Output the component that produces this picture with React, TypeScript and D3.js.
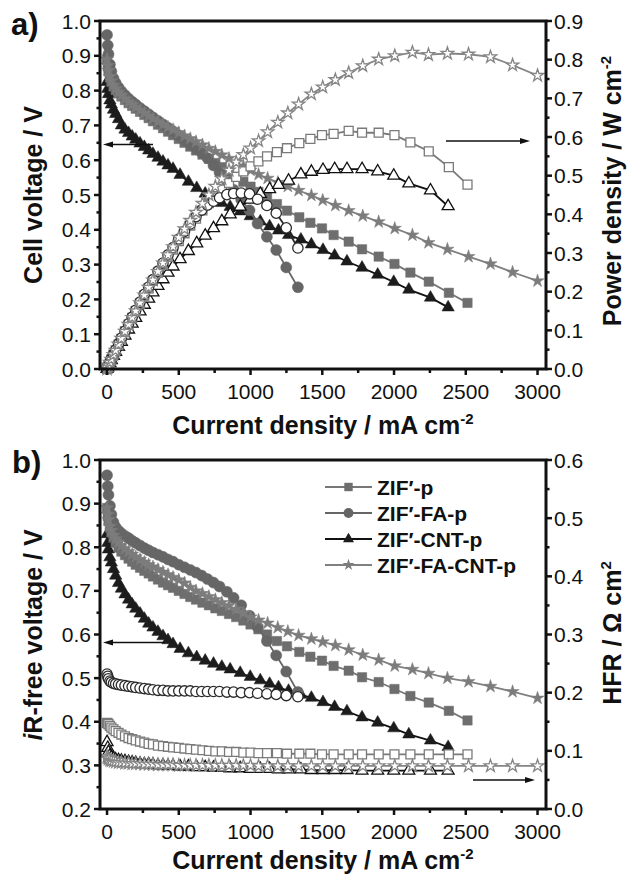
import React from 'react'
import * as d3 from 'd3'

// ---- data (current density in mA cm-2) ----

// ZIF'-p
const currentZifP = [0, 5, 10, 20, 30, 45, 60, 80, 100, 125, 150, 175, 200, 230, 260, 290, 320, 355, 390, 425, 460, 500, 540, 580, 620, 665, 710, 755, 800, 850, 900, 950, 1000, 1055, 1115, 1184, 1254, 1340, 1417, 1498, 1579, 1684, 1777, 1893, 2003, 2114, 2242, 2382, 2512]
const voltZifP = [0.890, 0.870, 0.855, 0.838, 0.826, 0.812, 0.802, 0.792, 0.783, 0.773, 0.764, 0.756, 0.748, 0.739, 0.730, 0.721, 0.712, 0.702, 0.692, 0.682, 0.672, 0.661, 0.650, 0.639, 0.628, 0.616, 0.604, 0.592, 0.580, 0.566, 0.552, 0.538, 0.524, 0.509, 0.493, 0.474, 0.455, 0.436, 0.420, 0.404, 0.385, 0.366, 0.344, 0.323, 0.302, 0.277, 0.251, 0.219, 0.190]
const powerZifP = [0, 0.004, 0.009, 0.017, 0.025, 0.037, 0.048, 0.063, 0.078, 0.097, 0.115, 0.132, 0.150, 0.170, 0.190, 0.209, 0.228, 0.249, 0.270, 0.290, 0.309, 0.331, 0.351, 0.371, 0.389, 0.410, 0.429, 0.447, 0.464, 0.481, 0.497, 0.511, 0.524, 0.537, 0.550, 0.561, 0.571, 0.584, 0.595, 0.605, 0.608, 0.616, 0.611, 0.611, 0.605, 0.586, 0.563, 0.522, 0.477]
const irFreeZifP = [0.890, 0.872, 0.860, 0.845, 0.834, 0.822, 0.810, 0.799, 0.790, 0.782, 0.774, 0.767, 0.760, 0.753, 0.746, 0.740, 0.733, 0.726, 0.719, 0.713, 0.707, 0.700, 0.693, 0.686, 0.680, 0.673, 0.667, 0.660, 0.654, 0.647, 0.640, 0.632, 0.623, 0.612, 0.600, 0.585, 0.573, 0.560, 0.549, 0.540, 0.528, 0.517, 0.502, 0.491, 0.475, 0.459, 0.444, 0.425, 0.403]
const hfrZifP = [0.148, 0.147, 0.146, 0.143, 0.140, 0.137, 0.134, 0.131, 0.128, 0.125, 0.122, 0.120, 0.118, 0.116, 0.114, 0.112, 0.111, 0.109, 0.108, 0.107, 0.106, 0.105, 0.104, 0.103, 0.102, 0.101, 0.100, 0.099, 0.099, 0.098, 0.098, 0.097, 0.097, 0.096, 0.096, 0.096, 0.095, 0.095, 0.095, 0.094, 0.094, 0.094, 0.094, 0.094, 0.094, 0.094, 0.094, 0.094, 0.094]

// ZIF'-FA-p
const currentZifFaP = [0, 5, 10, 20, 30, 45, 60, 80, 100, 125, 150, 175, 200, 230, 260, 290, 320, 355, 390, 425, 460, 500, 540, 580, 620, 660, 700, 742, 784, 835, 882, 935, 993, 1049, 1114, 1179, 1249, 1330]
const voltZifFaP = [0.960, 0.930, 0.905, 0.875, 0.855, 0.835, 0.822, 0.809, 0.798, 0.787, 0.777, 0.768, 0.760, 0.750, 0.741, 0.732, 0.723, 0.713, 0.703, 0.693, 0.683, 0.671, 0.659, 0.647, 0.635, 0.622, 0.606, 0.585, 0.565, 0.540, 0.515, 0.487, 0.456, 0.418, 0.380, 0.342, 0.292, 0.235]
const powerZifFaP = [0, 0.005, 0.009, 0.018, 0.026, 0.038, 0.049, 0.065, 0.080, 0.098, 0.117, 0.134, 0.152, 0.173, 0.193, 0.212, 0.231, 0.253, 0.274, 0.295, 0.314, 0.336, 0.356, 0.375, 0.394, 0.411, 0.424, 0.434, 0.443, 0.451, 0.454, 0.455, 0.453, 0.439, 0.423, 0.403, 0.365, 0.313]
const irFreeZifFaP = [0.965, 0.940, 0.920, 0.895, 0.875, 0.857, 0.846, 0.838, 0.832, 0.826, 0.821, 0.815, 0.810, 0.804, 0.798, 0.793, 0.788, 0.783, 0.778, 0.772, 0.767, 0.760, 0.754, 0.748, 0.742, 0.735, 0.727, 0.719, 0.710, 0.698, 0.684, 0.667, 0.643, 0.617, 0.585, 0.552, 0.515, 0.468]
const hfrZifFaP = [0.232, 0.228, 0.224, 0.220, 0.218, 0.216, 0.215, 0.214, 0.213, 0.212, 0.211, 0.210, 0.209, 0.208, 0.207, 0.206, 0.205, 0.204, 0.204, 0.203, 0.203, 0.203, 0.203, 0.203, 0.202, 0.202, 0.202, 0.202, 0.202, 0.201, 0.201, 0.200, 0.200, 0.199, 0.198, 0.197, 0.195, 0.193]

// ZIF'-CNT-p
const currentZifCntP = [0, 5, 10, 20, 30, 45, 60, 80, 100, 125, 150, 175, 200, 230, 260, 290, 320, 355, 390, 425, 460, 509, 567, 625, 684, 742, 800, 858, 928, 998, 1068, 1133, 1195, 1265, 1351, 1424, 1505, 1586, 1672, 1777, 1886, 1998, 2103, 2254, 2377]
const voltZifCntP = [0.825, 0.805, 0.790, 0.772, 0.760, 0.745, 0.733, 0.718, 0.700, 0.688, 0.678, 0.668, 0.659, 0.648, 0.638, 0.628, 0.618, 0.607, 0.596, 0.585, 0.575, 0.558, 0.538, 0.520, 0.504, 0.490, 0.477, 0.466, 0.453, 0.439, 0.424, 0.410, 0.398, 0.385, 0.372, 0.358, 0.342, 0.326, 0.309, 0.291, 0.271, 0.250, 0.228, 0.205, 0.177]
const powerZifCntP = [0, 0.004, 0.008, 0.015, 0.023, 0.034, 0.044, 0.057, 0.070, 0.086, 0.102, 0.117, 0.132, 0.149, 0.166, 0.182, 0.198, 0.215, 0.232, 0.249, 0.265, 0.284, 0.305, 0.325, 0.345, 0.364, 0.382, 0.400, 0.420, 0.438, 0.453, 0.465, 0.476, 0.487, 0.503, 0.510, 0.515, 0.517, 0.517, 0.517, 0.511, 0.500, 0.480, 0.462, 0.421]
const irFreeZifCntP = [0.830, 0.810, 0.795, 0.777, 0.765, 0.750, 0.735, 0.718, 0.705, 0.692, 0.680, 0.669, 0.659, 0.648, 0.636, 0.625, 0.616, 0.606, 0.596, 0.587, 0.578, 0.567, 0.557, 0.548, 0.540, 0.533, 0.526, 0.520, 0.512, 0.503, 0.495, 0.487, 0.479, 0.471, 0.462, 0.455, 0.445, 0.434, 0.424, 0.410, 0.398, 0.385, 0.371, 0.357, 0.342]
const hfrZifCntP = [0.115, 0.105, 0.098, 0.092, 0.089, 0.087, 0.085, 0.084, 0.083, 0.082, 0.081, 0.080, 0.079, 0.078, 0.077, 0.077, 0.076, 0.075, 0.075, 0.074, 0.074, 0.073, 0.073, 0.072, 0.072, 0.071, 0.071, 0.070, 0.070, 0.069, 0.069, 0.069, 0.068, 0.068, 0.068, 0.067, 0.067, 0.067, 0.067, 0.066, 0.066, 0.066, 0.066, 0.066, 0.066]

// ZIF'-FA-CNT-p
const currentZifFaCntP = [0, 5, 10, 20, 30, 45, 60, 80, 100, 125, 150, 175, 200, 230, 260, 290, 320, 355, 390, 425, 460, 500, 540, 580, 620, 665, 710, 755, 800, 850, 900, 950, 1000, 1056, 1119, 1190, 1260, 1335, 1424, 1503, 1591, 1684, 1782, 1893, 2005, 2128, 2240, 2372, 2519, 2672, 2826, 3000]
const voltZifFaCntP = [0.890, 0.872, 0.858, 0.840, 0.828, 0.815, 0.805, 0.795, 0.786, 0.776, 0.767, 0.759, 0.752, 0.743, 0.735, 0.727, 0.719, 0.711, 0.703, 0.695, 0.688, 0.679, 0.670, 0.662, 0.653, 0.644, 0.634, 0.625, 0.615, 0.605, 0.594, 0.583, 0.571, 0.559, 0.548, 0.536, 0.525, 0.513, 0.499, 0.485, 0.470, 0.455, 0.440, 0.423, 0.404, 0.385, 0.363, 0.344, 0.323, 0.302, 0.278, 0.253]
const powerZifFaCntP = [0, 0.004, 0.009, 0.017, 0.025, 0.037, 0.048, 0.064, 0.079, 0.097, 0.115, 0.133, 0.150, 0.171, 0.191, 0.211, 0.230, 0.252, 0.274, 0.295, 0.316, 0.340, 0.362, 0.384, 0.405, 0.428, 0.450, 0.472, 0.492, 0.514, 0.535, 0.554, 0.571, 0.590, 0.613, 0.638, 0.662, 0.685, 0.711, 0.729, 0.748, 0.766, 0.784, 0.801, 0.810, 0.819, 0.813, 0.816, 0.814, 0.807, 0.786, 0.759]
const irFreeZifFaCntP = [0.890, 0.875, 0.863, 0.848, 0.838, 0.827, 0.819, 0.811, 0.804, 0.797, 0.790, 0.784, 0.778, 0.772, 0.766, 0.760, 0.755, 0.749, 0.743, 0.737, 0.731, 0.725, 0.718, 0.708, 0.700, 0.694, 0.687, 0.680, 0.673, 0.666, 0.658, 0.649, 0.640, 0.633, 0.626, 0.616, 0.607, 0.598, 0.590, 0.583, 0.575, 0.565, 0.553, 0.542, 0.528, 0.520, 0.511, 0.500, 0.492, 0.481, 0.469, 0.454]
const hfrZifFaCntP = [0.090, 0.088, 0.086, 0.084, 0.083, 0.082, 0.081, 0.080, 0.080, 0.079, 0.079, 0.078, 0.078, 0.078, 0.077, 0.077, 0.077, 0.076, 0.076, 0.076, 0.076, 0.075, 0.075, 0.075, 0.075, 0.075, 0.075, 0.075, 0.075, 0.075, 0.075, 0.075, 0.075, 0.074, 0.074, 0.074, 0.074, 0.074, 0.074, 0.074, 0.074, 0.074, 0.074, 0.074, 0.074, 0.074, 0.074, 0.074, 0.074, 0.074, 0.074, 0.074]

// ticks
const xTicks = [0, 500, 1000, 1500, 2000, 2500, 3000]
const xMinor = [250, 750, 1250, 1750, 2250, 2750]
const cellTicks = [0, 0.1, 0.2, 0.3, 0.4, 0.5, 0.6, 0.7, 0.8, 0.9, 1.0]
const powerTicks = [0, 0.1, 0.2, 0.3, 0.4, 0.5, 0.6, 0.7, 0.8, 0.9]
const irTicks = [0.2, 0.3, 0.4, 0.5, 0.6, 0.7, 0.8, 0.9, 1.0]
const hfrTicks = [0, 0.1, 0.2, 0.3, 0.4, 0.5, 0.6]

const FONT = "'Liberation Sans', Arial, Helvetica, sans-serif"
const X0 = 100
const X1 = 546

const series = [
  { name: 'ZIF\u2032-CNT-p', current: currentZifCntP, volt: voltZifCntP, power: powerZifCntP, irFree: irFreeZifCntP, hfr: hfrZifCntP,
    symbol: d3.symbolTriangle, size: 66, openSize: 62, fill: '#1c1c1c', open: '#111', line: '#111' },
  { name: 'ZIF\u2032-p', current: currentZifP, volt: voltZifP, power: powerZifP, irFree: irFreeZifP, hfr: hfrZifP,
    symbol: d3.symbolSquare, size: 88, openSize: 80, fill: '#6e6e6e', open: '#7a7a7a', line: '#777' },
  { name: 'ZIF\u2032-FA-p', current: currentZifFaP, volt: voltZifFaP, power: powerZifFaP, irFree: irFreeZifFaP, hfr: hfrZifFaP,
    symbol: d3.symbolCircle, size: 96, openSize: 84, fill: '#666', open: '#2a2a2a', line: '#666' },
  { name: 'ZIF\u2032-FA-CNT-p', current: currentZifFaCntP, volt: voltZifFaCntP, power: powerZifFaCntP, irFree: irFreeZifFaCntP, hfr: hfrZifFaCntP,
    symbol: d3.symbolStar, size: 54, openSize: 48, fill: '#7c7c7c', open: '#858585', line: '#808080' },
]
const legendOrder = [1, 2, 0, 3]

const xScale = d3.scaleLinear().domain([-49, 3059]).range([X0, X1])

function Markers({ s, values, y, open }) {
  const d = d3.symbol().type(s.symbol).size(open ? s.openSize : s.size)()
  const line = d3.line().x((_, i) => xScale(s.current[i])).y(v => y(v))
  return (
    <g>
      <path d={line(values)} fill="none" stroke={open ? s.open : s.line} strokeWidth={1.8} />
      {values.map((v, i) => (
        <path key={i} d={d} transform={`translate(${xScale(s.current[i])},${y(v)})`}
          fill={open ? '#fff' : s.fill} stroke={open ? s.open : s.fill} strokeWidth={open ? 1.3 : 0.5} />
      ))}
    </g>
  )
}

function Arrow({ x1, x2, y }) {
  const dir = x2 > x1 ? 1 : -1
  return (
    <g>
      <line x1={x1} x2={x2 - dir * 7} y1={y} y2={y} stroke="#111" strokeWidth={1.3} />
      <path d={`M${x2},${y} L${x2 - dir * 10},${y - 3} L${x2 - dir * 10},${y + 3} Z`} fill="#111" />
    </g>
  )
}

function Frame({ yTop, yBot, yL, yR, leftTicks, rightTicks, xLabelY }) {
  const fmt = d3.format('.1f')
  const leftMinor = leftTicks.slice(0, -1).map(t => t + 0.05)
  const rightMinor = rightTicks.slice(0, -1).map(t => t + 0.05)
  return (
    <g stroke="#111" fontFamily={FONT} fontSize={21}>
      <rect x={X0} y={yTop} width={X1 - X0} height={yBot - yTop} fill="none" strokeWidth={3} />
      {leftTicks.map(t => (
        <g key={'l' + t}>
          <line x1={X0 - 6} x2={X0} y1={yL(t)} y2={yL(t)} strokeWidth={2.5} />
          <text x={X0 - 9} y={yL(t)} dy="0.36em" textAnchor="end" stroke="none" fill="#111">{fmt(t)}</text>
        </g>
      ))}
      {leftMinor.map(t => <line key={'lm' + t} x1={X0 - 3.5} x2={X0} y1={yL(t)} y2={yL(t)} strokeWidth={2.5} />)}
      {rightTicks.map(t => (
        <g key={'r' + t}>
          <line x1={X1} x2={X1 + 6} y1={yR(t)} y2={yR(t)} strokeWidth={2.5} />
          <text x={X1 + 8} y={yR(t)} dy="0.36em" stroke="none" fill="#111">{fmt(t)}</text>
        </g>
      ))}
      {rightMinor.map(t => <line key={'rm' + t} x1={X1} x2={X1 + 3.5} y1={yR(t)} y2={yR(t)} strokeWidth={2.5} />)}
      {xTicks.map(t => (
        <g key={'x' + t}>
          <line x1={xScale(t)} x2={xScale(t)} y1={yBot} y2={yBot + 6} strokeWidth={2.5} />
          <text x={xScale(t)} y={xLabelY} textAnchor="middle" stroke="none" fill="#111">{t}</text>
        </g>
      ))}
      {xMinor.map(t => <line key={'xm' + t} x1={xScale(t)} x2={xScale(t)} y1={yBot} y2={yBot + 4} strokeWidth={2.5} />)}
    </g>
  )
}

export default function App() {
  const yCell = d3.scaleLinear().domain([0, 1]).range([369, 21])
  const yPower = d3.scaleLinear().domain([0, 0.9]).range([369, 21])
  const yIr = d3.scaleLinear().domain([0.2, 1.0]).range([809, 460])
  const yHfr = d3.scaleLinear().domain([0, 0.6]).range([809, 460])

  const title = { fontFamily: FONT, fontSize: 25, fontWeight: 'bold', fill: '#111' }

  return (
    <div style={{ position: 'absolute', left: 0, top: 0 }}>
      <svg width={628} height={876} style={{ display: 'block', background: '#fff' }}>
        {/* panel a */}
        <g>
          {series.map((s, k) => <Markers key={'v' + k} s={s} values={s.volt} y={yCell} open={false} />)}
          {series.map((s, k) => <Markers key={'p' + k} s={s} values={s.power} y={yPower} open={true} />)}
          <Arrow x1={153} x2={103} y={144.5} />
          <Arrow x1={446} x2={530} y={141} />
          <Frame yTop={21} yBot={369} yL={yCell} yR={yPower} leftTicks={cellTicks} rightTicks={powerTicks} xLabelY={399} />
          <text x={11} y={35} {...title} fontSize={31}>a)</text>
          <text transform="translate(42,195) rotate(-90)" textAnchor="middle" {...title}>Cell voltage / V</text>
          <text transform="translate(621,191) rotate(-90)" textAnchor="middle" {...title}>
            Power density / W cm<tspan dy={-10} fontSize={15}>-2</tspan>
          </text>
          <text x={323} y={434} textAnchor="middle" {...title}>
            Current density / mA cm<tspan dy={-10} fontSize={15}>-2</tspan>
          </text>
        </g>

        {/* panel b */}
        <g>
          {series.map((s, k) => <Markers key={'i' + k} s={s} values={s.irFree} y={yIr} open={false} />)}
          {series.map((s, k) => <Markers key={'h' + k} s={s} values={s.hfr} y={yHfr} open={true} />)}
          <Arrow x1={165} x2={103} y={642.5} />
          <Arrow x1={473} x2={535} y={780} />
          <Frame yTop={460} yBot={809} yL={yIr} yR={yHfr} leftTicks={irTicks} rightTicks={hfrTicks} xLabelY={839} />
          <text x={12} y={473} {...title} fontSize={31}>b)</text>
          <text transform="translate(42,635) rotate(-90)" textAnchor="middle" {...title}>
            <tspan fontStyle="italic">i</tspan>R-free voltage / V
          </text>
          <text transform="translate(621,633) rotate(-90)" textAnchor="middle" {...title}>
            HFR / Ω cm<tspan dy={-10} fontSize={15}>2</tspan>
          </text>
          <text x={323} y={869} textAnchor="middle" {...title}>
            Current density / mA cm<tspan dy={-10} fontSize={15}>-2</tspan>
          </text>

          {/* legend */}
          {legendOrder.map((k, row) => {
            const s = series[k]
            const cy = 487 + row * 26
            const d = d3.symbol().type(s.symbol).size(s.size * 0.8)()
            return (
              <g key={'lg' + k}>
                <line x1={325} x2={372} y1={cy} y2={cy} stroke={s.line} strokeWidth={1.8} />
                <path d={d} transform={`translate(348.5,${cy})`} fill={s.fill} />
                <text x={377} y={cy} dy="0.36em" fontFamily={FONT} fontSize={21} fontWeight="bold" fill="#111">{s.name}</text>
              </g>
            )
          })}
        </g>
      </svg>
    </div>
  )
}
